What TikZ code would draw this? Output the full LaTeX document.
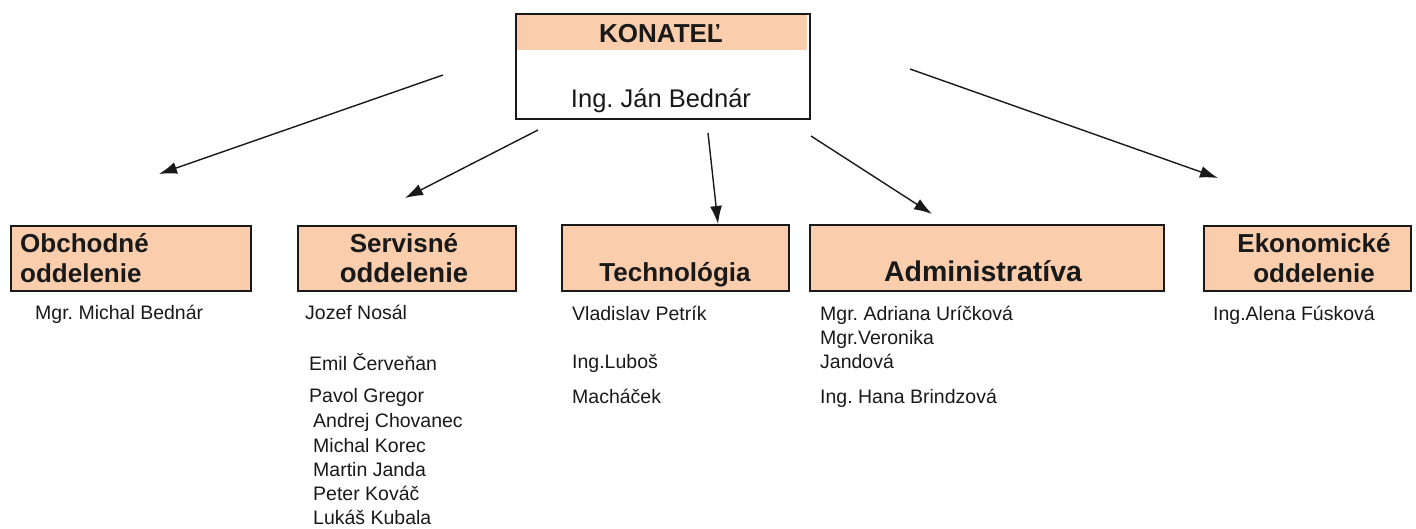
\documentclass[tikz,border=0pt]{standalone}
\usepackage{fontspec}
\setmainfont{Liberation Sans}
\usetikzlibrary{arrows.meta}
\definecolor{peach}{RGB}{250,205,172}
\definecolor{ink}{RGB}{25,25,25}
\frenchspacing
\tikzset{
  boxst/.style={draw=ink, line width=1.9pt, anchor=north west, inner sep=0pt},
  deptbox/.style={boxst, fill=peach},
  hd/.style={font=\fontsize{26}{30}\selectfont\bfseries, text=ink, inner sep=0pt},
  ppl/.style={font=\fontsize{19.5}{24}\selectfont, text=ink, inner sep=0pt, anchor=base west},
  arr/.style={draw=ink, line width=1.4pt, -{Latex[length=18pt,width=12pt]}},
}
\begin{document}
\frenchspacing
\begin{tikzpicture}[x=1pt,y=-1pt]
\useasboundingbox (0,0) rectangle (1416,528);
% top box
\node[boxst, fill=white, minimum width=294pt, minimum height=105pt] (kon) at (515,13) {};
\node[anchor=north west, fill=peach, inner sep=0pt, minimum width=290pt, minimum height=35pt] (konband) at (517,15) {};
\node[hd, anchor=base] (kont) at (661,42) {KONATEĽ};
\node[ppl, anchor=base, font=\fontsize{25.5}{30}\selectfont] (konn) at (661,107) {Ing. Ján Bednár};
% department boxes
\node[deptbox, minimum width=240pt, minimum height=65pt] (obch) at (10,225) {};
\node[deptbox, minimum width=218pt, minimum height=65pt] (serv) at (297,225) {};
\node[deptbox, minimum width=227pt, minimum height=66pt] (tech) at (561,224) {};
\node[deptbox, minimum width=354pt, minimum height=66pt] (admin) at (809,224) {};
\node[deptbox, minimum width=207pt, minimum height=65pt] (ekon) at (1203,225) {};
% headings
\node[hd, anchor=base west] (obch1) at (20,252) {Obchodné};
\node[hd, anchor=base west] (obch2) at (20,282) {oddelenie};
\node[hd, anchor=base] (serv1) at (404,252) {Servisné};
\node[hd, anchor=base, font=\fontsize{27.5}{30}\selectfont\bfseries] (serv2) at (404,282) {oddelenie};
\node[hd, anchor=base] (tech1) at (675,281) {Technológia};
\node[hd, anchor=base, font=\fontsize{28.5}{30}\selectfont\bfseries] (admin1) at (983,281) {Administratíva};
\node[hd, anchor=base] (ekon1) at (1314,252) {Ekonomické};
\node[hd, anchor=base] (ekon2) at (1314,282) {oddelenie};
% names
\node[ppl] (n1) at (35,319) {Mgr. Michal Bednár};
\node[ppl] (s1) at (305,319) {Jozef Nosál};
\node[ppl] (s2) at (309,370) {Emil Červeňan};
\node[ppl] (s3) at (309,402) {Pavol Gregor};
\node[ppl] (s4) at (313,427) {Andrej Chovanec};
\node[ppl] (s5) at (313,452) {Michal Korec};
\node[ppl] (s6) at (313,476) {Martin Janda};
\node[ppl] (s7) at (313,500) {Peter Kováč};
\node[ppl] (s8) at (313,524) {Lukáš Kubala};
\node[ppl] (t1) at (572,320) {Vladislav Petrík};
\node[ppl] (t2) at (572,368) {Ing.Luboš};
\node[ppl] (t3) at (572,403) {Macháček};
\node[ppl] (a1) at (820,320) {Mgr. Adriana Uríčková};
\node[ppl] (a2) at (820,344) {Mgr.Veronika};
\node[ppl] (a3) at (820,368) {Jandová};
\node[ppl] (a4) at (820,403) {Ing. Hana Brindzová};
\node[ppl] (e1) at (1213,320) {Ing.Alena Fúsková};
% arrows
\coordinate (s-a) at (443,75);
\coordinate (e-a) at (159,174);
\coordinate (s-b) at (538,130);
\coordinate (e-b) at (405,198);
\coordinate (s-c) at (708,133);
\coordinate (e-c) at (718,224);
\coordinate (s-d) at (811,136);
\coordinate (e-d) at (932,214);
\coordinate (s-e) at (910,69);
\coordinate (e-e) at (1218,178);
\draw[arr] (s-a) -- (e-a);
\draw[arr] (s-b) -- (e-b);
\draw[arr] (s-c) -- (e-c);
\draw[arr] (s-d) -- (e-d);
\draw[arr] (s-e) -- (e-e);
\end{tikzpicture}
\end{document}
